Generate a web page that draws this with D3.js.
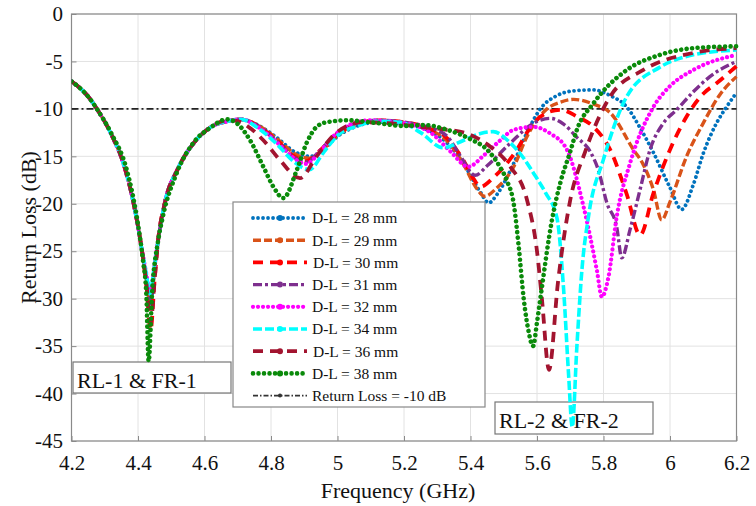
<!DOCTYPE html>
<html><head><meta charset="utf-8">
<script src="https://cdn.jsdelivr.net/npm/d3@7"></script>
<style>body{margin:0;background:#fff} svg text{font-family:"Liberation Serif","Times New Roman",Times,serif;}</style>
</head><body>
<svg id="chart" width="756" height="506"></svg>
<script>
// ---------- data ----------
const xTicks = [4.2,4.4,4.6,4.8,5,5.2,5.4,5.6,5.8,6,6.2];
const yTicks = [0,-5,-10,-15,-20,-25,-30,-35,-40,-45];
const seriesLabels = ["D-L = 28 mm","D-L = 29 mm","D-L = 30 mm","D-L = 31 mm","D-L = 32 mm","D-L = 34 mm","D-L = 36 mm","D-L = 38 mm"];
const refLabel = "Return Loss = -10 dB";
const refLine = [[4.2,-10],[6.2,-10]];
const xTitle = "Frequency (GHz)";
const yTitle = "Return Loss (dB)";
const box1Label = "RL-1 & FR-1";
const box2Label = "RL-2 & FR-2";

const dl28 = [[4.2,-7.1],[4.25,-8.7],[4.28,-10.2],[4.32,-12.7],[4.36,-16.2],[4.39,-20.5],[4.41,-24.5],[4.425,-28],[4.437,-31],[4.448,-27.5],[4.46,-24],[4.48,-20],[4.52,-16.3],[4.57,-13.5],[4.62,-11.9],[4.67,-11.3],[4.71,-11.1],[4.76,-11.7],[4.82,-13.1],[4.87,-14.5],[4.92,-15.0],[4.96,-14.2],[5.0,-12.9],[5.06,-11.8],[5.12,-11.4],[5.2,-11.6],[5.27,-12.2],[5.33,-13.6],[5.39,-16.4],[5.43,-18.8],[5.455,-19.9],[5.48,-19.0],[5.52,-16.5],[5.57,-12.5],[5.61,-10],[5.66,-8.6],[5.71,-8.1],[5.77,-8.0],[5.82,-8.6],[5.87,-9.8],[5.91,-12],[5.95,-14.6],[6.0,-18.3],[6.035,-20.6],[6.07,-18],[6.1,-14.7],[6.14,-11.5],[6.17,-9.8],[6.2,-8.3]];
const dl29 = [[4.2,-7.1],[4.25,-8.7],[4.28,-10.2],[4.32,-12.7],[4.36,-16.2],[4.39,-20.5],[4.41,-24.5],[4.425,-27.8],[4.437,-30.5],[4.448,-27.5],[4.46,-24],[4.48,-20],[4.52,-16.3],[4.57,-13.5],[4.62,-11.9],[4.67,-11.3],[4.71,-11.1],[4.76,-11.7],[4.82,-13.2],[4.87,-14.7],[4.915,-15.2],[4.955,-14.3],[5.0,-12.8],[5.06,-11.7],[5.12,-11.3],[5.2,-11.5],[5.27,-12.1],[5.33,-13.4],[5.38,-15.9],[5.415,-18.2],[5.443,-19.2],[5.48,-18.3],[5.53,-16.1],[5.57,-12.9],[5.63,-10],[5.67,-9.3],[5.71,-9.0],[5.77,-9.5],[5.82,-10.4],[5.89,-14.3],[5.92,-15.9],[5.95,-18.5],[5.975,-21.7],[6.0,-19.8],[6.05,-15],[6.1,-11.5],[6.15,-8.5],[6.2,-6.6]];
const dl30 = [[4.2,-7.1],[4.25,-8.7],[4.28,-10.2],[4.32,-12.7],[4.36,-16.2],[4.39,-20.5],[4.41,-24.5],[4.425,-28.5],[4.438,-33.3],[4.45,-28],[4.46,-24],[4.48,-20],[4.52,-16.3],[4.57,-13.5],[4.62,-11.9],[4.67,-11.3],[4.71,-11.1],[4.76,-11.8],[4.82,-13.4],[4.865,-14.9],[4.905,-15.5],[4.95,-14.3],[4.99,-12.9],[5.05,-11.7],[5.12,-11.2],[5.2,-11.4],[5.27,-12.0],[5.33,-13.1],[5.38,-15.5],[5.41,-17.4],[5.43,-18.2],[5.47,-17.2],[5.53,-14.8],[5.59,-11.5],[5.63,-10.4],[5.67,-10.1],[5.72,-10.8],[5.77,-11.9],[5.82,-14.3],[5.87,-19],[5.91,-23.3],[5.95,-18.9],[6.0,-14.3],[6.05,-10.8],[6.1,-8.4],[6.14,-7.3],[6.2,-5.5]];
const dl31 = [[4.2,-7.1],[4.25,-8.7],[4.28,-10.2],[4.32,-12.7],[4.36,-16.2],[4.39,-20.5],[4.41,-24.5],[4.425,-27.6],[4.437,-30],[4.448,-27.2],[4.46,-24],[4.48,-20],[4.52,-16.3],[4.57,-13.5],[4.62,-11.9],[4.67,-11.3],[4.71,-11.1],[4.76,-11.8],[4.82,-13.5],[4.865,-15.0],[4.905,-15.6],[4.95,-14.3],[4.99,-12.8],[5.05,-11.6],[5.12,-11.2],[5.2,-11.4],[5.27,-11.9],[5.33,-12.9],[5.37,-15],[5.414,-17.0],[5.45,-16.0],[5.52,-13.6],[5.59,-11.5],[5.64,-11.0],[5.68,-11.6],[5.72,-13.0],[5.76,-14.5],[5.785,-16.5],[5.81,-19.9],[5.84,-22.5],[5.855,-25.7],[5.88,-22.7],[5.91,-18.5],[5.94,-14.3],[5.98,-11.5],[6.02,-10.1],[6.07,-8.2],[6.12,-6.6],[6.2,-5.0]];
const dl32 = [[4.2,-7.1],[4.25,-8.7],[4.28,-10.2],[4.32,-12.7],[4.36,-16.2],[4.39,-20.5],[4.41,-24.5],[4.425,-27.4],[4.436,-29.5],[4.447,-27.2],[4.46,-24],[4.48,-20],[4.52,-16.3],[4.57,-13.5],[4.62,-11.9],[4.67,-11.3],[4.71,-11.1],[4.76,-11.9],[4.82,-13.6],[4.865,-15.1],[4.905,-15.8],[4.95,-14.4],[4.99,-12.8],[5.05,-11.5],[5.1,-11.2],[5.2,-11.5],[5.28,-12.5],[5.34,-14.5],[5.393,-16.1],[5.44,-14.9],[5.49,-13.3],[5.53,-12.2],[5.59,-11.9],[5.64,-12.6],[5.69,-14.3],[5.74,-20.3],[5.78,-27],[5.795,-29.8],[5.815,-27.7],[5.84,-21.3],[5.88,-15.7],[5.95,-9.8],[6.0,-7.6],[6.07,-5.9],[6.2,-4.3]];
const dl34 = [[4.2,-7.1],[4.25,-8.7],[4.28,-10.2],[4.32,-12.7],[4.36,-16.2],[4.39,-20.5],[4.41,-24.5],[4.425,-27.4],[4.436,-29.5],[4.447,-27.2],[4.46,-24],[4.48,-20],[4.52,-16.3],[4.57,-13.5],[4.62,-11.9],[4.67,-11.3],[4.71,-11.1],[4.76,-12.0],[4.82,-13.8],[4.87,-15.6],[4.915,-16.4],[4.96,-14.5],[5.0,-12.8],[5.06,-11.8],[5.12,-11.3],[5.19,-11.4],[5.25,-12.5],[5.318,-14.1],[5.38,-13.3],[5.43,-12.6],[5.468,-12.4],[5.52,-13.6],[5.56,-15.2],[5.59,-16.8],[5.625,-18.8],[5.66,-21.5],[5.68,-29],[5.695,-38],[5.706,-43.5],[5.72,-35],[5.735,-27],[5.755,-21.3],[5.8,-15.3],[5.87,-8.7],[5.97,-5.6],[6.07,-4.3],[6.2,-3.8]];
const dl36 = [[4.2,-7.1],[4.25,-8.7],[4.28,-10.2],[4.32,-12.7],[4.36,-16.2],[4.39,-20.5],[4.41,-24.5],[4.425,-28.3],[4.438,-32.5],[4.45,-28],[4.46,-24],[4.48,-20],[4.52,-16.3],[4.57,-13.5],[4.62,-11.9],[4.67,-11.2],[4.7,-11.3],[4.74,-12.1],[4.777,-13.3],[4.827,-15.4],[4.887,-17.3],[4.937,-15],[4.997,-12.5],[5.077,-11.4],[5.15,-11.5],[5.25,-11.9],[5.33,-12.2],[5.39,-12.6],[5.46,-14.0],[5.52,-16.1],[5.57,-19.6],[5.6,-25],[5.615,-30.1],[5.636,-37.5],[5.663,-28.3],[5.70,-19.6],[5.745,-14.5],[5.82,-8.7],[5.92,-5.9],[6.07,-4.1],[6.2,-3.6]];
const dl38 = [[4.2,-7.1],[4.25,-8.7],[4.28,-10.2],[4.32,-12.6],[4.366,-16.4],[4.396,-21.3],[4.415,-26],[4.425,-29.5],[4.432,-36.6],[4.443,-29],[4.46,-24],[4.475,-21.3],[4.516,-16.8],[4.566,-13.6],[4.617,-12.0],[4.667,-11.1],[4.7,-11.6],[4.737,-13.3],[4.777,-16.1],[4.807,-18.2],[4.837,-19.4],[4.878,-16.4],[4.907,-13.6],[4.937,-11.9],[4.968,-11.4],[5.03,-11.2],[5.12,-11.5],[5.2,-11.8],[5.26,-11.7],[5.33,-12.2],[5.4,-13.2],[5.45,-14.3],[5.49,-16.2],[5.51,-17.6],[5.53,-20.0],[5.545,-24.5],[5.56,-30],[5.575,-33.5],[5.588,-35],[5.6,-32.5],[5.61,-30],[5.645,-21.7],[5.67,-17.8],[5.7,-14.5],[5.72,-12.2],[5.77,-9.4],[5.87,-5.9],[5.97,-4.3],[6.07,-3.6],[6.2,-3.4]];

const seriesData = [dl28, dl29, dl30, dl31, dl32, dl34, dl36, dl38];

// ---------- styles ----------
const styles = [
  {color:"#0072BD", width:3.8, dash:"0.01 5", cap:"round"},
  {color:"#D95319", width:3.4, dash:"8 3", cap:"butt"},
  {color:"#FF0000", width:3.8, dash:"10 7", cap:"butt"},
  {color:"#7E2F8E", width:3.4, dash:"9 3 3 3", cap:"butt"},
  {color:"#FF00FF", width:4.2, dash:"0.01 5", cap:"round"},
  {color:"#00FFFF", width:3.6, dash:"9 3", cap:"butt"},
  {color:"#A2142F", width:3.8, dash:"10 7", cap:"butt"},
  {color:"#0A8A0A", width:4.6, dash:"0.01 5.5", cap:"round"}
];

const W = 756, H = 506;
const P = {l:71.5, r:736.5, t:14, b:441};
const svg = d3.select("#chart");
const serif = '"Liberation Serif","Times New Roman",Times,serif';

const x = d3.scaleLinear().domain([4.2,6.2]).range([P.l,P.r]);
const y = d3.scaleLinear().domain([-45,0]).range([P.b,P.t]);

svg.append("rect").attr("width",W).attr("height",H).attr("fill","#fff");

// grid
const grid = svg.append("g").attr("stroke","#e2e2e2").attr("stroke-width",1);
grid.selectAll(".gx").data(xTicks).join("line")
  .attr("x1",d=>x(d)).attr("x2",d=>x(d)).attr("y1",P.t).attr("y2",P.b);
grid.selectAll(".gy").data(yTicks).join("line")
  .attr("y1",d=>y(d)).attr("y2",d=>y(d)).attr("x1",P.l).attr("x2",P.r);

// axes
const xa = svg.append("g").attr("transform",`translate(0,${P.b})`)
  .call(d3.axisBottom(x).tickValues(xTicks).tickFormat(d=>String(d)).tickSizeInner(-5).tickSizeOuter(0).tickPadding(14));
const ya = svg.append("g").attr("transform",`translate(${P.l},0)`)
  .call(d3.axisLeft(y).tickValues(yTicks).tickFormat(d=>String(d)).tickSizeInner(-5).tickSizeOuter(0).tickPadding(8.5));
[xa,ya].forEach(a=>{
  a.attr("font-family",serif).attr("font-size",21);
  a.select(".domain").remove();
  a.selectAll(".tick line").attr("stroke","#8a8a8a");
  a.selectAll(".tick text").attr("fill","#111");
});

// frame
svg.append("rect").attr("x",P.l).attr("y",P.t).attr("width",P.r-P.l).attr("height",P.b-P.t)
  .attr("fill","none").attr("stroke","#8a8a8a").attr("stroke-width",1.2);

// titles
svg.append("text").attr("x",(P.l+P.r)/2-6).attr("y",498).attr("text-anchor","middle")
  .attr("font-family",serif).attr("font-size",22).attr("fill","#111").text(xTitle);
svg.append("text").attr("transform",`translate(36,${(P.t+P.b)/2}) rotate(-90)`).attr("text-anchor","middle")
  .attr("font-family",serif).attr("font-size",22).attr("fill","#111").text(yTitle);

// annotation boxes (under the curves)
const boxes = [{label:box1Label, x0:73, y0:362, w:158, h:31}, {label:box2Label, x0:495, y0:402, w:158, h:32}];
const bg = svg.append("g");
bg.selectAll("rect").data(boxes).join("rect")
  .attr("x",d=>d.x0).attr("y",d=>d.y0).attr("width",d=>d.w).attr("height",d=>d.h)
  .attr("fill","#fff").attr("stroke","#777").attr("stroke-width",1.2);
bg.selectAll("text").data(boxes).join("text")
  .attr("x",d=>d.x0+4).attr("y",d=>d.y0+25.5)
  .attr("font-family",serif).attr("font-size",22).attr("fill","#111").text(d=>d.label);

// curves
svg.append("clipPath").attr("id","plotclip").append("rect")
  .attr("x",P.l).attr("y",P.t-3).attr("width",P.r-P.l+3).attr("height",P.b-P.t+3);
const line = d3.line().x(d=>x(d[0])).y(d=>y(d[1])).curve(d3.curveMonotoneX);
const cg = svg.append("g").attr("clip-path","url(#plotclip)");

cg.append("path").datum(refLine).attr("d",d3.line().x(d=>x(d[0])).y(d=>y(d[1])))
  .attr("fill","none").attr("stroke","#222").attr("stroke-width",1.6).attr("stroke-dasharray","7 3 2 3");

cg.selectAll(".series").data(seriesData).join("path")
  .attr("d",line).attr("fill","none")
  .attr("stroke",(d,i)=>styles[i].color)
  .attr("stroke-width",(d,i)=>styles[i].width)
  .attr("stroke-dasharray",(d,i)=>styles[i].dash)
  .attr("stroke-linecap",(d,i)=>styles[i].cap)
  .attr("stroke-linejoin","round");

// legend
const lg = svg.append("g");
lg.append("rect").attr("x",233).attr("y",202).attr("width",252).attr("height",205)
  .attr("fill","#fff").attr("stroke","#888").attr("stroke-width",1.2);
const legItems = seriesLabels.map((t,i)=>({label:t, st:styles[i]}))
  .concat([{label:refLabel, st:{color:"#333", width:1.6, dash:"5 2 1.5 2", cap:"butt"}, ref:true}]);
const rowY = i => 218 + i*22.2;
const li = lg.selectAll(".li").data(legItems).join("g").attr("transform",(d,i)=>`translate(0,${rowY(i)})`);
li.append("line").attr("x1",253).attr("x2",307).attr("y1",0).attr("y2",0)
  .attr("stroke",d=>d.st.color).attr("stroke-width",d=>d.st.width)
  .attr("stroke-dasharray",d=>d.st.dash).attr("stroke-linecap",d=>d.st.cap);
li.append("circle").attr("cx",280).attr("cy",0).attr("r",d=>d.ref?2:3).attr("fill",d=>d.st.color);
li.append("text").attr("x",(d,i)=>i===2||i===6?313:312).attr("y",0).attr("dy","0.35em")
  .attr("font-family",serif).attr("font-size",15.5).attr("fill","#111").text(d=>d.label);
</script>
</body></html>
